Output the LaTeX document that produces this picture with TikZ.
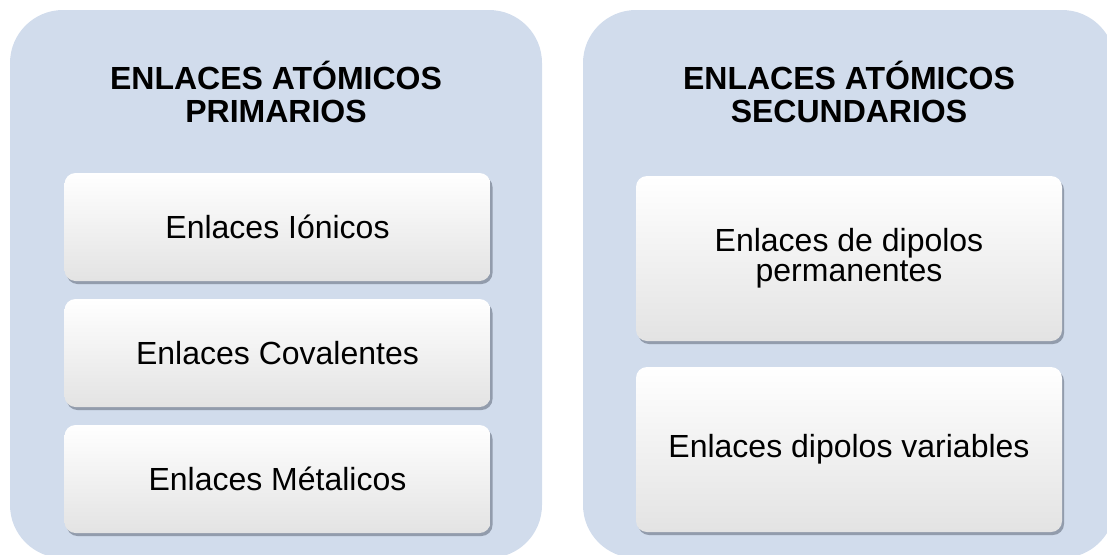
\documentclass[tikz,border=0pt]{standalone}
\usepackage{fontspec}
\setmainfont{Liberation Sans}
\usetikzlibrary{shadows}

\definecolor{panelblue}{RGB}{209,220,236}
\definecolor{shadowgray}{RGB}{95,105,120}

\begin{document}
\begin{tikzpicture}[x=1pt, y=-1pt,
  panel/.style={rectangle, rounded corners=53pt, fill=panelblue,
    minimum width=532pt, minimum height=548pt, inner sep=0pt},
  heading/.style={align=center, font=\fontsize{32}{33}\selectfont\bfseries},
  bondbox/.style={rectangle, rounded corners=11pt, minimum width=426pt,
    inner sep=0pt, align=center, font=\fontsize{32}{30}\selectfont,
    top color=white, middle color=white, bottom color=black!11,
    drop shadow={shadow xshift=2pt, shadow yshift=-3pt, opacity=0.55, fill=shadowgray}}]

% Fix the page to the size of the picture
\useasboundingbox (0,0) rectangle (1107,554);
\clip (0,0) rectangle (1107,554);

% Two background panels
\node [panel] (primarios) at (276,284) {};
\node [panel] (secundarios) at (849,284) {};

% Panel headings
\node [heading] (tprim) at (276,92) {ENLACES ATÓMICOS\\PRIMARIOS};
\node [heading] (tsec) at (849,92) {ENLACES ATÓMICOS\\SECUNDARIOS};

% Primary bonds
\node [bondbox, minimum height=108pt] (ionicos) at (277.5,227) {Enlaces Iónicos};
\node [bondbox, minimum height=108pt] (covalentes) at (277.5,353) {Enlaces Covalentes};
\node [bondbox, minimum height=108pt] (metalicos) at (277.5,479) {Enlaces Métalicos};

% Secondary bonds
\node [bondbox, minimum height=165pt] (permanentes) at (849,258.5) {Enlaces de dipolos\\permanentes};
\node [bondbox, minimum height=165pt] (variables) at (849,449.5) {Enlaces dipolos variables};

\end{tikzpicture}
\end{document}
